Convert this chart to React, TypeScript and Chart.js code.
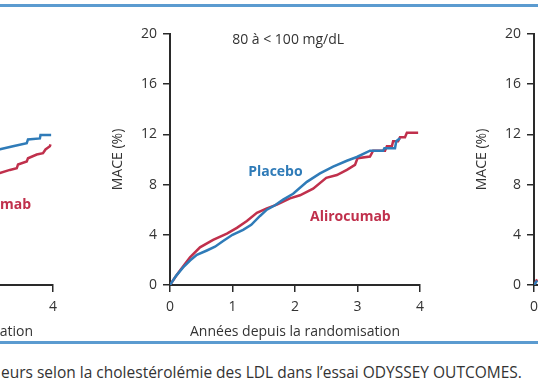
import React, { useEffect, useRef } from "react";
import { Chart, registerables } from "chart.js";

Chart.register(...registerables);

const FONT = "'Open Sans', Roboto, 'Liberation Sans', sans-serif";
const BLUE = "#2f7bb8";
const RED = "#c0304c";
const INK = "#2a2a2a";

// Axis ticks
const yearTicks = [0, 1, 2, 3, 4];
const maceTicks = [0, 4, 8, 12, 16, 20];

// Center panel: 80 à < 100 mg/dL
const centerTitle = "80 à < 100 mg/dL";
const centerPlaceboYears = [0, 0.1, 0.21, 0.32, 0.43, 0.59, 0.72, 0.85, 1.0, 1.17, 1.3, 1.44, 1.55, 1.68, 1.81, 1.97, 2.19, 2.4, 2.61, 2.83, 2.99, 3.2, 3.41, 3.43, 3.6, 3.62, 3.68];
const centerPlaceboMace = [0, 0.75, 1.4, 1.95, 2.4, 2.75, 3.05, 3.5, 4.0, 4.4, 4.8, 5.5, 6.0, 6.35, 6.8, 7.27, 8.22, 8.89, 9.43, 9.9, 10.2, 10.7, 10.7, 10.9, 10.9, 11.46, 11.7];
const centerAliroYears = [0, 0.08, 0.16, 0.32, 0.48, 0.69, 0.91, 1.07, 1.23, 1.39, 1.55, 1.71, 1.92, 2.08, 2.29, 2.5, 2.67, 2.83, 2.96, 3.0, 3.2, 3.25, 3.44, 3.47, 3.55, 3.57, 3.65, 3.68, 3.76, 3.79, 3.97];
const centerAliroMace = [0, 0.6, 1.15, 2.2, 3.0, 3.6, 4.1, 4.55, 5.1, 5.75, 6.1, 6.4, 6.9, 7.15, 7.68, 8.54, 8.76, 9.17, 9.57, 10.1, 10.24, 10.7, 10.7, 11.05, 11.05, 11.46, 11.46, 11.78, 11.78, 12.13, 12.13];

// Left panel (only its right end is visible)
const leftPlaceboYears = [3.1, 3.36, 3.58, 3.6, 3.79, 3.8, 3.97];
const leftPlaceboMace = [10.75, 11.05, 11.3, 11.6, 11.68, 11.95, 11.95];
const leftAliroYears = [3.1, 3.31, 3.42, 3.44, 3.58, 3.6, 3.74, 3.84, 3.88, 3.95, 3.96];
const leftAliroMace = [8.85, 9.17, 9.3, 9.6, 9.84, 10.1, 10.4, 10.5, 10.8, 11.05, 11.2];

// Right panel (only its y axis is visible)
const rightPlaceboYears = [0, 0.05];
const rightPlaceboMace = [0, 0.35];
const rightAliroYears = [0, 0.05];
const rightAliroMace = [0, 0.45];

const caption = "eurs selon la cholestérolémie des LDL dans l’essai ODYSSEY OUTCOMES.";

type Series = { years: number[]; mace: number[]; color: string };
type Note = { text: string; x: number; y: number; color: string; bold: boolean; align: CanvasTextAlign; size: number };

function Panel({ left, series, notes }: { left: number; series: Series[]; notes: Note[] }) {
  const ref = useRef<HTMLCanvasElement>(null);
  useEffect(() => {
    const notePlugin = {
      id: "notes",
      afterDatasetsDraw(chart: any) {
        const { ctx, scales } = chart;
        ctx.save();
        ctx.textBaseline = "middle";
        for (const n of notes) {
          ctx.font = `${n.bold ? "bold " : ""}${n.size}px ${FONT}`;
          ctx.fillStyle = n.color;
          ctx.textAlign = n.align;
          ctx.fillText(n.text, scales.x.getPixelForValue(n.x), scales.y.getPixelForValue(n.y));
        }
        ctx.restore();
      },
    };
    const tickFont = { family: FONT, size: 14 };
    const chart = new Chart(ref.current!, {
      type: "line",
      data: {
        datasets: series.map((s) => ({
          data: s.years.map((x, i) => ({ x, y: s.mace[i] })),
          borderColor: s.color,
          borderWidth: 2.5,
          pointRadius: 0,
          tension: 0,
          fill: false,
        })),
      },
      options: {
        responsive: false,
        animation: false,
        layout: { padding: { left: 0, right: 20, top: 34, bottom: 0 } },
        plugins: { legend: { display: false }, tooltip: { enabled: false }, title: { display: false } },
        scales: {
          x: {
            type: "linear",
            min: 0,
            max: 4,
            afterBuildTicks: (s: any) => {
              s.ticks = yearTicks.map((v) => ({ value: v }));
            },
            afterFit: (s: any) => {
              s.height = 55;
            },
            grid: { display: true, drawOnChartArea: false, drawTicks: true, tickLength: 7, color: INK, lineWidth: 1.5 },
            border: { display: true, color: INK, width: 2 },
            ticks: { padding: 7, color: "#333", font: tickFont },
            title: { display: true, text: "Années depuis la randomisation", color: "#333", font: tickFont, padding: { top: 0, bottom: 0 } },
          },
          y: {
            type: "linear",
            min: 0,
            max: 20,
            afterBuildTicks: (s: any) => {
              s.ticks = maceTicks.map((v) => ({ value: v }));
            },
            afterFit: (s: any) => {
              s.width = 70;
            },
            grid: { display: true, drawOnChartArea: false, drawTicks: true, tickLength: 7, color: INK, lineWidth: 1.5 },
            border: { display: true, color: INK, width: 2 },
            ticks: { padding: 6, color: "#333", font: tickFont },
            title: { display: true, text: "MACE (%)", color: "#333", font: tickFont, padding: { top: 10, bottom: 0 } },
          },
        },
      } as any,
      plugins: [notePlugin],
    });
    return () => chart.destroy();
  }, []);
  return <canvas ref={ref} width={340} height={340} style={{ position: "absolute", left, top: 0 }} />;
}

export default function App() {
  const centerSeries: Series[] = [
    { years: centerPlaceboYears, mace: centerPlaceboMace, color: BLUE },
    { years: centerAliroYears, mace: centerAliroMace, color: RED },
  ];
  const leftSeries: Series[] = [
    { years: leftPlaceboYears, mace: leftPlaceboMace, color: BLUE },
    { years: leftAliroYears, mace: leftAliroMace, color: RED },
  ];
  const rightSeries: Series[] = [
    { years: rightPlaceboYears, mace: rightPlaceboMace, color: BLUE },
    { years: rightAliroYears, mace: rightAliroMace, color: RED },
  ];
  const centerNotes: Note[] = [
    { text: centerTitle, x: 1.89, y: 19.55, color: "#333", bold: false, align: "center", size: 14 },
    { text: "Placebo", x: 1.25, y: 9.03, color: BLUE, bold: true, align: "left", size: 14 },
    { text: "Alirocumab", x: 2.24, y: 5.38, color: RED, bold: true, align: "left", size: 14 },
  ];
  const leftNotes: Note[] = [
    { text: "Alirocumab", x: 3.65, y: 6.4, color: RED, bold: true, align: "right", size: 14 },
  ];
  return (
    <div style={{ position: "fixed", left: 0, top: 0, width: 538, height: 384, overflow: "hidden", background: "#fff" }}>
      <div style={{ position: "absolute", left: 0, top: 4, width: 538, height: 3, background: "#5b9bd0" }} />
      <Panel left={-267} series={leftSeries} notes={leftNotes} />
      <Panel left={100} series={centerSeries} notes={centerNotes} />
      <Panel left={464} series={rightSeries} notes={[]} />
      <div style={{ position: "absolute", left: 0, top: 341, width: 538, height: 3, background: "#5b9bd0" }} />
      <div style={{ position: "absolute", left: 1, top: 363, whiteSpace: "nowrap", fontFamily: FONT, fontSize: 15.5, lineHeight: "18px", color: "#333" }}>
        {caption}
      </div>
    </div>
  );
}
